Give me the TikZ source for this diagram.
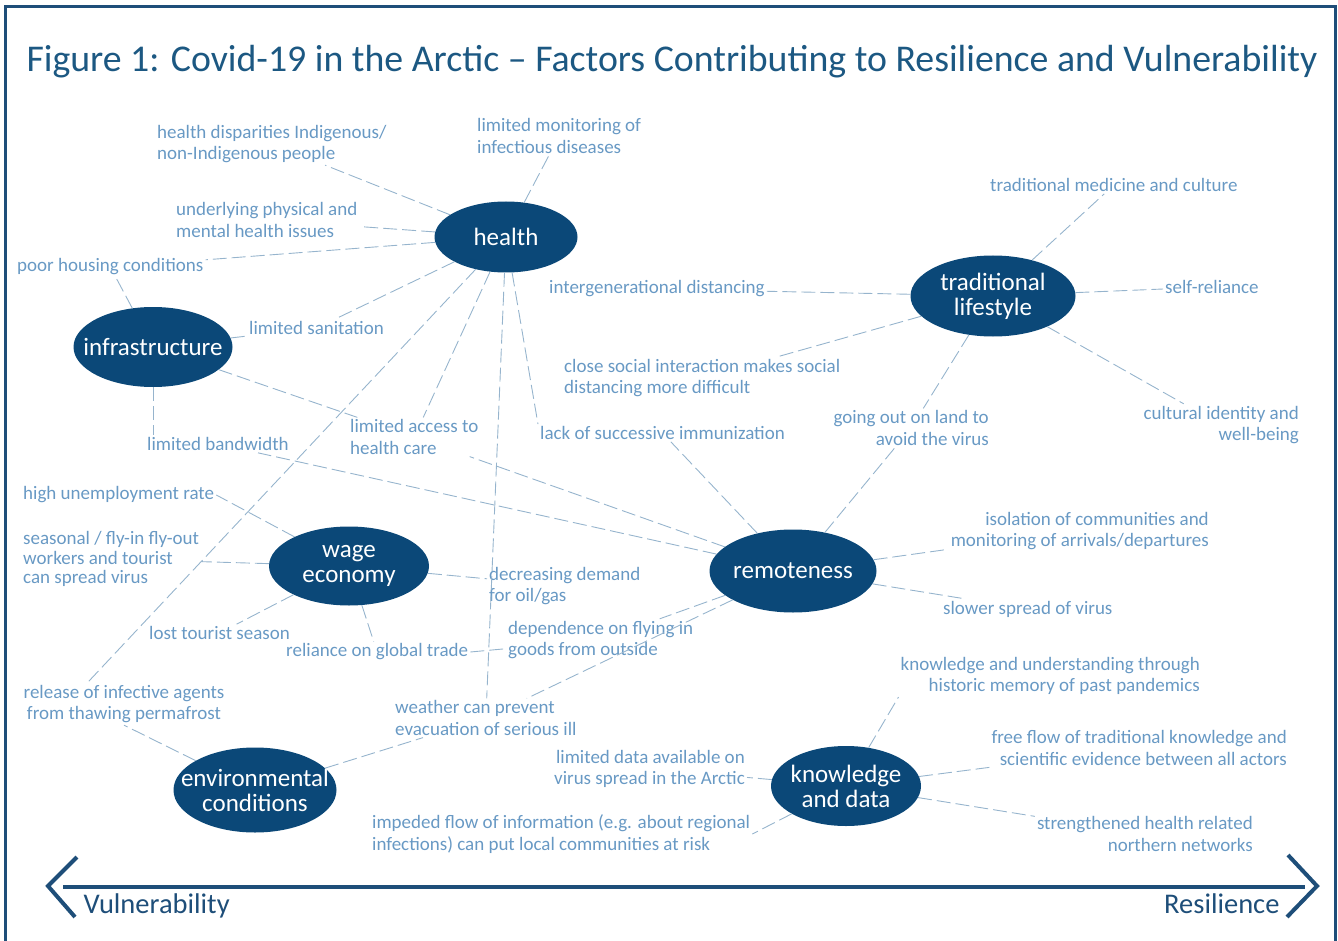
\documentclass[tikz,border=0pt]{standalone}
\usepackage{fontspec}
\setmainfont{Carlito}
\usetikzlibrary{shapes.geometric}
\definecolor{hubblue}{RGB}{11,72,120}
\definecolor{textblue}{RGB}{104,153,196}
\definecolor{linkblue}{RGB}{150,180,205}
\definecolor{frameblue}{RGB}{30,78,121}
\definecolor{titleblue}{RGB}{28,88,130}

\begin{document}
\begin{tikzpicture}[x=1pt,y=-1pt,
  hub/.style={ellipse,fill=hubblue,text=white,inner sep=-20pt,align=center,font=\fontsize{25}{25}\selectfont},
  fact/.style={text=textblue,inner sep=2pt,font=\fontsize{19}{21.5}\selectfont},
  link/.style={draw=linkblue,line width=0.9pt,dash pattern=on 14pt off 5pt}]
\useasboundingbox (0,0) rectangle (1338,941);
\draw [frameblue,line width=3pt] (5,941) -- (5,7) -- (1335,7) -- (1335,941);
\node [text=titleblue,font=\fontsize{37.8}{38}\selectfont] (title) at (672,62) {Figure 1: Covid-19 in the Arctic – Factors Contributing to Resilience and Vulnerability};
\node [hub,minimum width=143pt,minimum height=71pt] (health) at (506,237) {health};
\node [hub,minimum width=159pt,minimum height=80pt] (infra) at (153,347) {infrastructure};
\node [hub,minimum width=165pt,minimum height=81pt] (trad) at (993,296) {traditional\\lifestyle};
\node [hub,minimum width=160pt,minimum height=79pt] (wage) at (349,566) {wage\\economy};
\node [hub,minimum width=167pt,minimum height=83pt] (remote) at (793,571) {remoteness};
\node [hub,minimum width=163pt,minimum height=85pt] (envir) at (255,790) {environmental\\conditions};
\node [hub,minimum width=150pt,minimum height=80pt] (knowl) at (846,786) {knowledge\\and data};
\node [fact,anchor=west,align=left] (hdisp) at (155,144) {health disparities Indigenous/\\non-Indigenous people};
\node [fact,anchor=west,align=left] (monit) at (475,136) {limited monitoring of\\infectious diseases};
\node [fact,anchor=west,align=left] (under) at (174,220) {underlying physical and\\mental health issues};
\node [fact,anchor=west] (housing) at (15,267) {poor housing conditions};
\node [fact,anchor=west] (sanit) at (247,328) {limited sanitation};
\node [fact,anchor=west,align=left] (access) at (348,437) {limited access to\\health care};
\node [fact,anchor=west] (immun) at (538,433) {lack of successive immunization};
\node [fact,anchor=west] (bandw) at (145,444) {limited bandwidth};
\node [fact,anchor=west] (tmed) at (988,185) {traditional medicine and culture};
\node [fact,anchor=west] (selfrel) at (1163,287) {self-reliance};
\node [fact,anchor=west] (intergen) at (547,289) {intergenerational distancing};
\node [fact,anchor=west,align=left] (social) at (562,378) {close social interaction makes social\\distancing more difficult};
\node [fact,anchor=east,align=right] (land) at (991,428) {going out on land to\\avoid the virus};
\node [fact,anchor=east,align=right] (cultid) at (1301,425) {cultural identity and\\well-being};
\node [fact,anchor=east,align=right] (isol) at (1211,531) {isolation of communities and\\monitoring of arrivals/departures};
\node [fact,anchor=west] (slower) at (941,609) {slower spread of virus};
\node [fact,anchor=west,align=left] (decr) at (487,586) {decreasing demand\\for oil/gas};
\node [fact,anchor=west,align=left] (depend) at (506,640) {dependence on flying in\\goods from outside};
\node [fact,anchor=west,align=left] (weather) at (393,718) {weather can prevent\\evacuation of serious ill};
\node [fact,anchor=west] (unemp) at (21,495) {high unemployment rate};
\node [fact,anchor=west,align=left,font=\fontsize{19}{19.5}\selectfont] (season) at (21,559) {seasonal / fly-in fly-out\\workers and tourist\\can spread virus};
\node [fact,anchor=west] (lost) at (147,633) {lost tourist season};
\node [fact,anchor=west] (relia) at (284,652) {reliance on global trade};
\node [fact,align=center] (release) at (124,704) {release of infective agents\\from thawing permafrost};
\node [fact,anchor=east,align=right] (histmem) at (1202,676) {knowledge and understanding through\\historic memory of past pandemics};
\node [fact,anchor=east,align=right] (freeflow) at (1289,748) {free flow of traditional knowledge and\\scientific evidence between all actors};
\node [fact,anchor=east,align=right] (limdata) at (747,769) {limited data available on\\virus spread in the Arctic};
\node [fact,anchor=west,align=left] (impeded) at (370,834) {impeded flow of information (e.g. about regional\\infections) can put local communities at risk};
\node [fact,anchor=east,align=right] (strength) at (1255,834) {strengthened health related\\northern networks};
\draw [link] (health) edge (hdisp);
\draw [link] (health) edge (monit);
\draw [link] (health) edge (under);
\draw [link] (health) edge (housing);
\draw [link] (health) edge (sanit);
\draw [link] (health) edge (release.150);
\draw [link] (health) edge (access);
\draw [link] (health) edge (weather);
\draw [link] (health) edge (immun.north west);
\draw [link] (infra) edge (housing);
\draw [link] (infra) edge (sanit);
\draw [link] (infra) edge (access);
\draw [link] (infra) edge (infra.south |- bandw.north);
\draw [link] (remote) edge (bandw);
\draw [link] (remote) edge (access);
\draw [link] (remote) edge (immun);
\draw [link] (remote) edge (land);
\draw [link] (remote) edge (isol);
\draw [link] (remote) edge (slower);
\draw [link] (remote) edge (depend);
\draw [link] (remote) edge (weather);
\draw [link] (trad) edge (tmed);
\draw [link] (trad) edge (selfrel);
\draw [link] (trad) edge (intergen);
\draw [link] (trad) edge (social);
\draw [link] (trad) edge (land);
\draw [link] (trad) edge (cultid);
\draw [link] (wage) edge (unemp.east);
\draw [link] (wage) edge (season);
\draw [link] (wage) edge (lost);
\draw [link] (wage) edge (relia);
\draw [link] (wage) edge (decr);
\draw [link] (relia.east) edge (depend);
\draw [link] (envir) edge (release.south);
\draw [link] (envir) edge (weather);
\draw [link] (knowl) edge (histmem.south west);
\draw [link] (knowl) edge (freeflow);
\draw [link] (knowl) edge (limdata);
\draw [link] (knowl) edge (impeded.east);
\draw [link] (knowl) edge (strength);
\coordinate (vtop) at (77,857);
\coordinate (vtip) at (48,886);
\coordinate (vbot) at (75,917);
\coordinate (rtop) at (1288,855);
\coordinate (rtip) at (1317,886);
\coordinate (rbot) at (1287,917);
\draw [frameblue,line width=4pt] (vtop) -- (vtip) -- (vbot);
\draw [frameblue,line width=4pt] (rtop) -- (rtip) -- (rbot);
\draw [frameblue,line width=4pt] (63,887) -- (1305,887);
\node [text=frameblue,font=\fontsize{28.5}{28.5}\selectfont,anchor=base west] (vuln) at (80,913) {Vulnerability};
\node [text=frameblue,font=\fontsize{28.5}{28.5}\selectfont,anchor=base east] (resil) at (1283,913) {Resilience};
\end{tikzpicture}
\end{document}
